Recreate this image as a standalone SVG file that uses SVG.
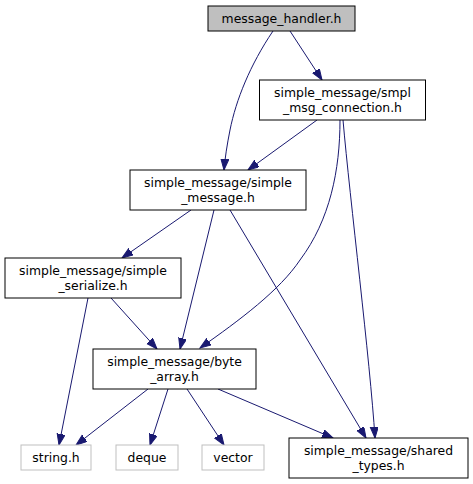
<svg xmlns="http://www.w3.org/2000/svg" width="473" height="484" viewBox="0 0 473 484">
<style>
.n rect{fill:#fff;stroke:#000;stroke-width:1}
.root rect{fill:#bfbfbf}
.leaf rect{stroke:#bfbfbf}
text{font-family:"DejaVu Sans",sans-serif;font-size:12.4px;text-anchor:middle;fill:#000}
.e path{fill:none;stroke:#191970;stroke-width:1}
</style>
<defs>
<marker id="a" markerUnits="userSpaceOnUse" markerWidth="12" markerHeight="9" refX="11" refY="4" orient="auto">
<path d="M0,0 L11,4 L0,8 z" fill="#191970" stroke="#191970"/>
</marker>
</defs>
<rect width="473" height="484" fill="#fff"/>
<g class="e">
<path d="M273,31 C250,65 236,100 230,130 C227,145 225,158 224,170" marker-end="url(#a)"/>
<path d="M290,31 L322,80" marker-end="url(#a)"/>
<path d="M317,120 L248,170" marker-end="url(#a)"/>
<path d="M340,120 C340,170 330,220 300,260 C280,290 240,320 200,348" marker-end="url(#a)"/>
<path d="M343,120 C350,200 370,360 375,438" marker-end="url(#a)"/>
<path d="M191,210 L122,258" marker-end="url(#a)"/>
<path d="M214,210 L180,349" marker-end="url(#a)"/>
<path d="M230,210 L366,438" marker-end="url(#a)"/>
<path d="M88,298 L59,445" marker-end="url(#a)"/>
<path d="M111,298 L157,349" marker-end="url(#a)"/>
<path d="M148,389 L76,445" marker-end="url(#a)"/>
<path d="M168,389 L150,445" marker-end="url(#a)"/>
<path d="M187,389 L224,445" marker-end="url(#a)"/>
<path d="M218,389 L333,438" marker-end="url(#a)"/>
</g>
<g id="node1" class="n root"><rect x="208" y="6" width="147" height="25"/><text x="281.5" y="23">message_handler.h</text></g>
<g id="node2" class="n"><rect x="259.5" y="80" width="166" height="40"/><text x="342.5" y="97">simple_message/smpl</text><text x="342.5" y="112">_msg_connection.h</text></g>
<g id="node3" class="n"><rect x="130" y="170" width="176" height="40"/><text x="218" y="187">simple_message/simple</text><text x="218" y="202">_message.h</text></g>
<g id="node4" class="n"><rect x="5" y="258" width="176" height="40"/><text x="93" y="275">simple_message/simple</text><text x="93" y="290">_serialize.h</text></g>
<g id="node5" class="n"><rect x="93" y="349" width="163" height="40"/><text x="174.5" y="366">simple_message/byte</text><text x="174.5" y="381">_array.h</text></g>
<g id="node6" class="n leaf"><rect x="21" y="445" width="70" height="25"/><text x="56" y="462">string.h</text></g>
<g id="node7" class="n leaf"><rect x="116" y="445" width="62" height="25"/><text x="147" y="462">deque</text></g>
<g id="node8" class="n leaf"><rect x="202" y="445" width="62" height="25"/><text x="233" y="462">vector</text></g>
<g id="node9" class="n"><rect x="289" y="438" width="179" height="40"/><text x="378.5" y="455">simple_message/shared</text><text x="378.5" y="470">_types.h</text></g>
</svg>
